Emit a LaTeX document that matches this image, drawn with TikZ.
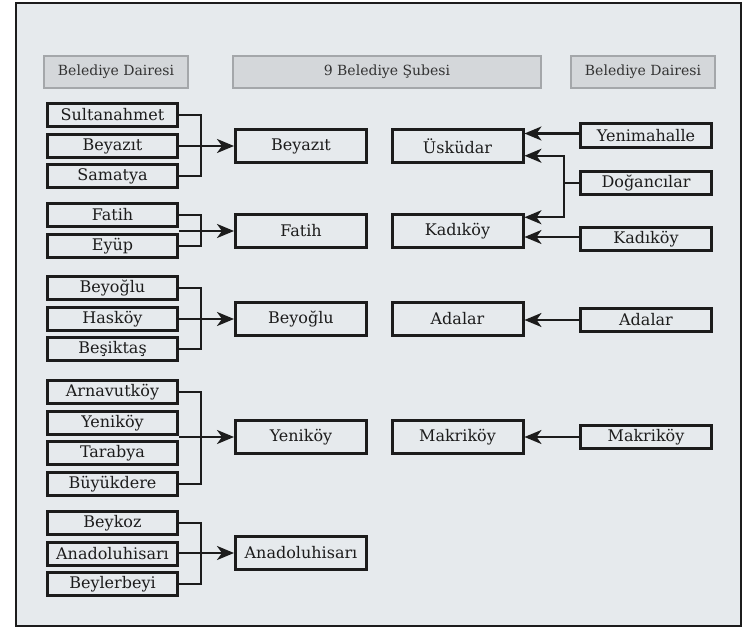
\documentclass[tikz,border=0pt]{standalone}
\usepackage{fontspec}
\setmainfont{DejaVu Serif}
\usetikzlibrary{arrows.meta}
\definecolor{panel}{HTML}{E6EAED}
\definecolor{headfill}{HTML}{D4D7DA}
\definecolor{headline}{HTML}{A4A7AA}
\definecolor{ink}{HTML}{1C1C1C}
\tikzset{
  headbox/.style={draw=headline, fill=headfill, line width=2.6pt, minimum height=32pt,
    inner sep=0pt, text=ink!90, font=\fontsize{14}{17}\selectfont},
  townbox/.style={draw=ink, line width=3pt, minimum width=130pt, minimum height=23.5pt,
    inner sep=0pt, text=ink, font=\fontsize{16}{19}\selectfont},
  branchbox/.style={townbox, minimum width=131pt, minimum height=32.5pt},
  link/.style={draw=ink, line width=2.4pt},
  feed/.style={link, -{Stealth[length=17pt,width=14pt,inset=5pt]}},
}
\begin{document}
\begin{tikzpicture}[x=1pt,y=-1pt]
  \useasboundingbox (0,0) rectangle (747,628);
  %frame
  \draw[draw=ink, line width=2.4pt, fill=panel] (16,3) rectangle (741,626);
  %headers
  \node[headbox, minimum width=144pt] (headL) at (116,72) {Belediye Dairesi};
  \node[headbox, minimum width=308pt] (headM) at (387,72) {9 Belediye Şubesi};
  \node[headbox, minimum width=144pt] (headR) at (643,72) {Belediye Dairesi};

  %left column
  \foreach \name/\town/\y in {sultan/Sultanahmet/115, beyazit/Beyazıt/146, samatya/Samatya/176,
      fatih/Fatih/215, eyup/Eyüp/246,
      beyoglu/Beyoğlu/288, haskoy/Hasköy/319, besiktas/Beşiktaş/349,
      arnavut/Arnavutköy/392, yenikoy/Yeniköy/423, tarabya/Tarabya/453, buyukdere/Büyükdere/484,
      beykoz/Beykoz/523, anadolu/Anadoluhisarı/554, beylerbeyi/Beylerbeyi/584}
      \node[townbox] (\name) at (112.5,\y) {\town};

  %branches
  \node[branchbox] (subBeyazit) at (301,146) {Beyazıt};
  \node[branchbox] (subFatih) at (301,231) {Fatih};
  \node[branchbox] (subBeyoglu) at (301,319) {Beyoğlu};
  \node[branchbox] (subYenikoy) at (301,437) {Yeniköy};
  \node[branchbox] (subAnadolu) at (301,553) {Anadoluhisarı};
  \node[branchbox] (subUskudar) at (457.5,146) {Üsküdar};
  \node[branchbox] (subKadikoy) at (457.5,231) {Kadıköy};
  \node[branchbox] (subAdalar) at (457.5,319) {Adalar};
  \node[branchbox] (subMakrikoy) at (457.5,437) {Makriköy};

  %right column
  \foreach \name/\town/\y in {yenimah/Yenimahalle/135.5, dogan/Doğancılar/183, kadikoy/Kadıköy/239,
      adalar/Adalar/320, makrikoy/Makriköy/437}
      \node[townbox, minimum width=131pt] (\name) at (646,\y) {\town};

  %brackets
  \draw[link] (sultan.east) -- ++(22,0) |- (samatya.east);
  \draw[link] (fatih.east) -- ++(22,0) |- (eyup.east);
  \draw[link] (beyoglu.east) -- ++(22,0) |- (besiktas.east);
  \draw[link] (arnavut.east) -- ++(22,0) |- (buyukdere.east);
  \draw[link] (beykoz.east) -- ++(22,0) |- (beylerbeyi.east);
  %arrows to the branches
  \draw[feed] (beyazit.east |- subBeyazit) -- (subBeyazit.west);
  \draw[feed] (fatih.east |- subFatih) -- (subFatih.west);
  \draw[feed] (haskoy.east |- subBeyoglu) -- (subBeyoglu.west);
  \draw[feed] (yenikoy.east |- subYenikoy) -- (subYenikoy.west);
  \draw[feed] (anadolu.east |- subAnadolu) -- (subAnadolu.west);

  \draw[feed] (yenimah.west) ++(0,-2) -- (subUskudar.east |- 0,133.5);
  \coordinate (split) at (564,183);
  \draw[link] (dogan.west) -- (split);
  \draw[feed] (split) |- ([yshift=8pt]subUskudar.south east);
  \draw[feed] (split) |- ([yshift=-4pt]subKadikoy.north east);
  \draw[feed] (kadikoy.west) ++(0,-2) -- (subKadikoy.east |- 0,237);
  \draw[feed] (adalar.west) -- (adalar.west -| subAdalar.east);
  \draw[feed] (makrikoy.west) -- (makrikoy.west -| subMakrikoy.east);
\end{tikzpicture}
\end{document}
